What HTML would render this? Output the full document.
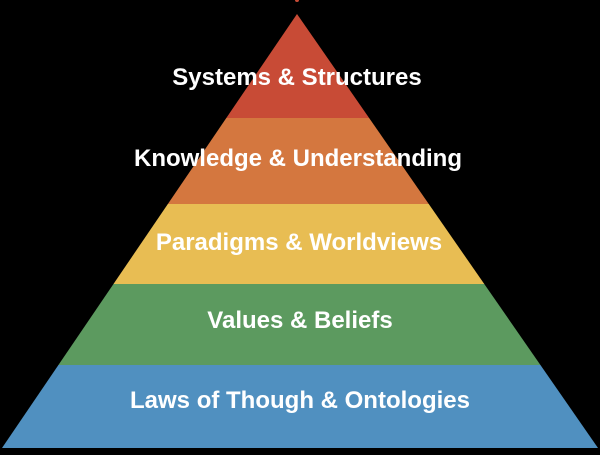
<!DOCTYPE html>
<html><head><style>
html,body{margin:0;padding:0;background:#000;}
body{width:600px;height:450px;overflow:hidden;}
text{font-family:"Liberation Sans",Arial,sans-serif;font-weight:bold;font-size:24px;fill:#fff;}
</style></head><body>
<svg width="600" height="450" viewBox="0 0 600 450">
<defs><clipPath id="c"><polygon points="297,14 2,448 598,448"/></clipPath></defs>
<rect width="600" height="450" fill="#000"/>
<circle cx="297" cy="0" r="2" fill="#c84b36"/>
<g clip-path="url(#c)">
<rect x="0" y="0" width="600" height="118" fill="#c84b36"/>
<rect x="0" y="118" width="600" height="86" fill="#d4773f"/>
<rect x="0" y="204" width="600" height="80" fill="#e8bd53"/>
<rect x="0" y="284" width="600" height="81" fill="#5c9a5f"/>
<rect x="0" y="365" width="600" height="85" fill="#5090c0"/>
</g>
<text x="297" y="85" text-anchor="middle">Systems &amp; Structures</text>
<text x="298" y="166" text-anchor="middle">Knowledge &amp; Understanding</text>
<text x="299" y="250" text-anchor="middle">Paradigms &amp; Worldviews</text>
<text x="300" y="328" text-anchor="middle">Values &amp; Beliefs</text>
<text x="300" y="408" text-anchor="middle">Laws of Though &amp; Ontologies</text>
</svg>
</body></html>
